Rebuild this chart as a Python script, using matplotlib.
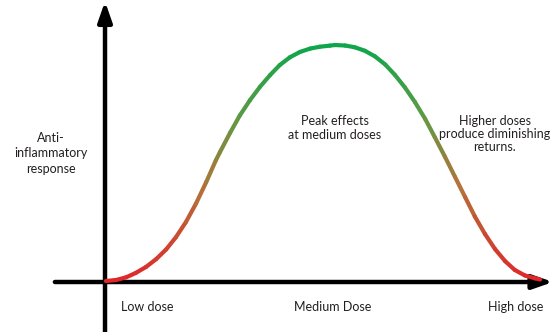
import numpy as np
import matplotlib
matplotlib.use("Agg")
import matplotlib.pyplot as plt
from matplotlib.collections import LineCollection
from matplotlib.colors import LinearSegmentedColormap

# Dose-response curve (dose in arbitrary units, response as % of peak)
dose = [0.02, 0.24, 0.46, 0.67, 0.89, 1.11, 1.33, 1.54, 1.76, 1.98, 2.20, 2.41,
        2.50, 2.72, 2.93, 3.15, 3.37, 3.59, 3.80, 4.02, 4.24, 4.46, 4.67, 4.89,
        5.00, 5.22, 5.43, 5.65, 5.87, 6.09, 6.30, 6.52, 6.74, 6.96, 7.17, 7.39,
        7.61, 7.83, 8.04, 8.26, 8.48, 8.70, 8.91, 9.13, 9.35, 9.46]
response = [0.42, 0.84, 1.98, 3.84, 6.33, 9.62, 13.76, 18.86, 25.32, 33.16,
            42.15, 51.35, 54.85, 62.97, 70.25, 76.69, 82.38, 87.34, 91.56, 94.83,
            97.09, 98.50, 99.28, 99.75, 100.0, 99.79, 99.05, 97.57, 95.19, 91.81,
            87.45, 82.11, 75.86, 68.82, 61.10, 52.87, 44.32, 35.78, 27.66, 20.27,
            13.88, 8.76, 5.06, 2.74, 1.54, 1.05]

dose_labels = ["Low dose", "Medium Dose", "High dose"]
dose_label_pos = [0.91, 4.96, 8.93]

TEXT = "#231f20"
FONT = ["Lato", "DejaVu Sans"]

fig = plt.figure(figsize=(5.55, 3.32), dpi=100)
ax = fig.add_axes([0, 0, 1, 1])
ax.set_xlim(-2.283, 9.783)
ax.set_ylim(-21.1, 119.0)
ax.axis("off")

# Axes drawn as thick arrows
arrow = dict(arrowstyle="-|>,head_length=12,head_width=4.2", lw=3.2,
             color="black", mutation_scale=1, shrinkA=0, shrinkB=0)
ax.annotate("", xy=(9.74, 0), xytext=(-1.09, 0), arrowprops=arrow)
ax.annotate("", xy=(0, 118.4), xytext=(0, -21.1), arrowprops=arrow)

# Curve coloured by height: red at the baseline, green at the peak
cmap = LinearSegmentedColormap.from_list(
    "resp", [(0.0, "#e0262b"), (0.4, "#b3733a"), (0.7, "#5e9a44"), (1.0, "#0ea64c")])
x = np.asarray(dose)
y = np.asarray(response)
pts = np.column_stack([x, y]).reshape(-1, 1, 2)
segs = np.concatenate([pts[:-1], pts[1:]], axis=1)
mid = (y[:-1] + y[1:]) / 2 / 100.0
lc = LineCollection(segs, colors=cmap(mid), linewidths=3.0, capstyle="round",
                    joinstyle="round", zorder=3)
ax.add_collection(lc)

# Text annotations
fs = 9
for lab, pos in zip(dose_labels, dose_label_pos):
    ax.text(pos, -10.5, lab, ha="center", va="center", fontsize=fs,
            color=TEXT, family=FONT)

ax.text(-1.17, 54.4, "Anti-\ninflammatory\nresponse", ha="center", va="center",
        fontsize=fs, color=TEXT, family=FONT, linespacing=1.35)
ax.text(5.0, 65.0, "Peak effects\nat medium doses", ha="center", va="center",
        fontsize=fs, color=TEXT, family=FONT, linespacing=1.25)
ax.text(8.47, 62.5, "Higher doses\nproduce diminishing\nreturns.", ha="center",
        va="center", fontsize=fs, color=TEXT, family=FONT, linespacing=1.12)

fig.savefig("out.png", dpi=100, facecolor="white")
